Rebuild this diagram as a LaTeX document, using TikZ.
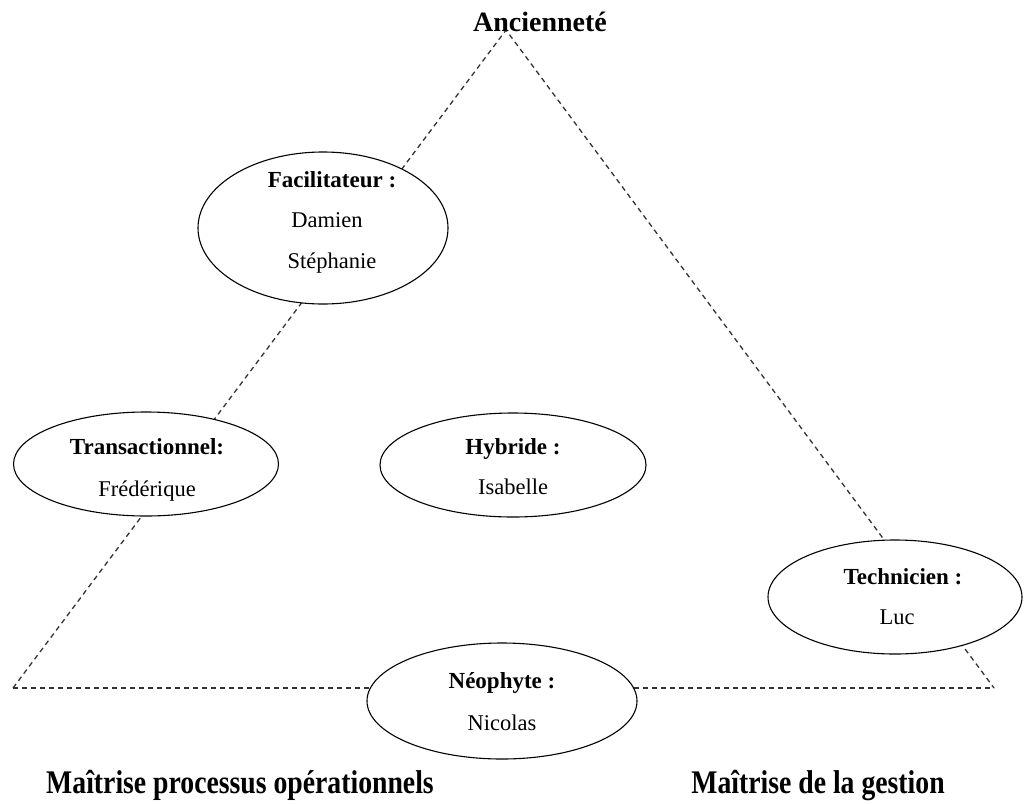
\documentclass[tikz,border=0pt]{standalone}
\usepackage{fontspec}
\setmainfont{Liberation Serif}
\usepackage{graphicx}
\usetikzlibrary{shapes.geometric}
\begin{document}
\begin{tikzpicture}[x=1pt,y=-1pt,
  ell/.style={ellipse, draw=black, fill=white, line width=1.1pt, inner sep=0pt},
  side/.style={draw=black!80, dash pattern=on 5pt off 4pt, line width=1.3pt},
  role/.style={anchor=base, inner sep=0pt, font=\fontsize{23}{27}\selectfont\bfseries},
  person/.style={anchor=base, inner sep=0pt, font=\fontsize{22.5}{26}\selectfont},
  axis/.style={anchor=base, inner sep=0pt, font=\fontsize{28}{32}\selectfont\bfseries},
  axisc/.style={anchor=base, inner sep=0pt, font=\fontsize{33}{37}\selectfont\bfseries}]
\useasboundingbox (0,0) rectangle (1024,803);
\fill[white] (0,0) rectangle (1024,803);
% triangle corners
\coordinate (apex) at (506,30);
\coordinate (bl) at (13,688);
\coordinate (br) at (994,688);
\draw[side] (bl) -- (apex) -- (br);
\draw[side] (bl) -- (br);
% ellipses
\node[ell, minimum width=250pt, minimum height=152pt] (fac) at (323,228) {};
\node[ell, minimum width=265pt, minimum height=104pt] (tra) at (146,464) {};
\node[ell, minimum width=266pt, minimum height=104pt] (hyb) at (513,465) {};
\node[ell, minimum width=254pt, minimum height=114pt] (tec) at (895,597) {};
\node[ell, minimum width=270pt, minimum height=116pt] (neo) at (502,701) {};
% texts
\node[role] (facT) at (332,187) {Facilitateur :};
\node[person] (facA) at (327,227) {Damien};
\node[person] (facB) at (332,268) {Stéphanie};
\node[role] (traT) at (147,454) {Transactionnel:};
\node[person] (traA) at (147,496) {Frédérique};
\node[role] (hybT) at (513,454) {Hybride :};
\node[person] (hybA) at (513,494) {Isabelle};
\node[role] (tecT) at (903,584) {Technicien :};
\node[person] (tecA) at (897,624) {Luc};
\node[role] (neoT) at (502,688) {Néophyte :};
\node[person] (neoA) at (502,730) {Nicolas};
% axis labels
\node[axis] (anc) at (540,31) {Ancienneté};
\node[axisc] (mpo) at (240,793) {\scalebox{0.84}[1]{Maîtrise processus opérationnels}};
\node[axisc] (mdg) at (818,793) {\scalebox{0.84}[1]{Maîtrise de la gestion}};
\end{tikzpicture}
\end{document}
